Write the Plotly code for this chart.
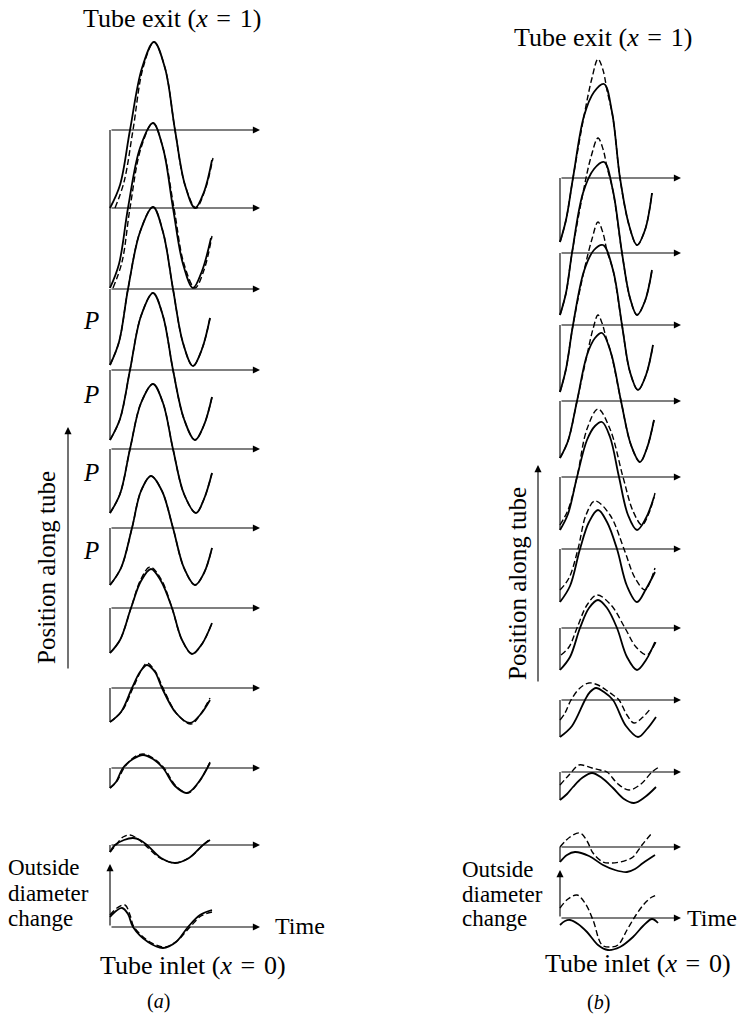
import plotly.graph_objects as go

# ---------------- Panel (a) ----------------
# baseline (row) positions along the tube, top row = tube exit
A_BASE = [130, 208, 289, 370, 449, 528, 608, 688, 768, 845, 927]
# solid curves: time offset / outside diameter change (upward positive)
A_SOLID_T = [
    [0, 10, 20, 32, 44, 55, 65, 75, 85, 94, 102],
    [0, 9, 18, 30, 43, 53, 63, 73, 83, 92, 101],
    [0, 9, 18, 30, 43, 53, 63, 73, 83, 92, 100],
    [0, 10, 20, 31, 43, 53, 63, 74, 85, 94, 102],
    [0, 10, 20, 31, 43, 53, 63, 74, 86, 94, 102],
    [0, 11, 22, 31, 41, 52, 63, 74, 85, 94, 102],
    [0, 10, 21, 31, 41, 51, 62, 72, 82, 92, 102],
    [0, 11, 22, 30, 37, 45, 52, 66, 80, 90, 100],
    [0, 6, 13, 23, 33, 43, 53, 65, 77, 88, 100],
    [0, 5, 14, 23, 30, 37, 51, 65, 79, 93, 100],
    [0, 6, 12, 18, 23, 38, 53, 66, 78, 90, 102],
]
A_SOLID_V = [
    [-78, -55, 0, 62, 88, 62, 0, -55, -78, -62, -30],
    [-80, -56, 0, 60, 85, 60, 0, -56, -80, -63, -30],
    [-76, -53, 0, 57, 82, 57, 0, -54, -77, -60, -29],
    [-70, -49, 0, 54, 77, 54, 0, -49, -70, -55, -27],
    [-64, -45, 0, 46, 65, 46, 0, -45, -64, -50, -24],
    [-57, -40, 0, 37, 52, 37, 0, -40, -57, -45, -20],
    [-45, -32, 0, 27, 39, 27, 0, -32, -46, -36, -15],
    [-34, -24, 0, 16, 23, 16, 0, -25, -35, -27, -12],
    [-20, -14, 0, 9, 13, 9, 0, -18, -25, -15, 5],
    [-7, 0, 5, 7, 5, 0, -13, -18, -13, 0, 5],
    [10, 16, 19, 13, 0, -15, -21, -15, 0, 12, 17],
]
A_DASH_T = [
    [5, 14, 23, 33, 44, 55, 65, 75, 86, 95, 103],
    [3, 12, 20, 31, 43, 53, 64, 74, 85, 94, 102],
    [0, 9, 18, 30, 43, 53, 63, 73, 83, 92, 100],
    [0, 10, 20, 31, 43, 53, 63, 74, 85, 94, 102],
    [0, 10, 20, 31, 43, 53, 63, 74, 86, 94, 102],
    [0, 11, 22, 31, 41, 52, 63, 74, 85, 94, 102],
    [0, 10, 21, 31, 40, 51, 62, 72, 82, 92, 102],
    [0, 12, 23, 31, 37, 45, 53, 67, 81, 90, 100],
    [0, 7, 14, 23, 33, 43, 54, 66, 78, 89, 100],
    [0, 6, 13, 20, 28, 35, 50, 65, 79, 93, 100],
    [0, 7, 15, 20, 24, 40, 55, 67, 80, 91, 102],
]
A_DASH_V = [
    [-78, -52, 0, 62, 88, 62, 0, -55, -78, -60, -28],
    [-80, -54, 0, 60, 85, 60, 0, -56, -80, -62, -28],
    [-76, -53, 0, 57, 82, 57, 0, -54, -77, -60, -29],
    [-70, -49, 0, 54, 77, 54, 0, -49, -70, -55, -27],
    [-64, -45, 0, 46, 65, 46, 0, -45, -64, -50, -24],
    [-57, -40, 0, 37, 52, 37, 0, -40, -57, -45, -20],
    [-45, -32, 0, 29, 41, 29, 0, -32, -46, -36, -15],
    [-34, -23, 0, 17, 25, 17, 0, -26, -36, -27, -10],
    [-20, -13, 0, 10, 14, 10, 0, -18, -25, -14, 6],
    [-7, 0, 8, 10, 6, 0, -13, -18, -13, 0, 6],
    [12, 19, 22, 12, 0, -15, -20, -14, 0, 11, 15],
]

# ---------------- Panel (b) ----------------
B_BASE = [178, 253, 325, 401, 477, 549, 628, 700, 772, 847, 918]
B_SOLID_T = [
    [0, 6, 13, 24, 34, 44, 52, 60, 69, 77, 85, 92],
    [0, 6, 12, 23, 34, 44, 53, 62, 70, 77, 85, 92],
    [0, 6, 13, 24, 34, 43, 53, 62, 70, 78, 86, 93],
    [0, 8, 17, 27, 35, 42, 51, 61, 71, 80, 87, 94],
    [0, 8, 17, 27, 35, 42, 50, 59, 68, 77, 86, 94],
    [0, 10, 20, 29, 38, 47, 57, 67, 77, 86, 95],
    [0, 10, 20, 29, 38, 47, 57, 67, 77, 86, 95],
    [0, 12, 25, 30, 36, 44, 53, 66, 78, 87, 96],
    [0, 7, 13, 22, 32, 42, 53, 64, 74, 85, 96],
    [0, 7, 15, 29, 43, 55, 67, 75, 83, 95],
    [0, 5, 10, 18, 27, 38, 48, 60, 73, 83, 92, 98],
]
B_SOLID_V = [
    [-64, -42, 0, 62, 86, 94, 66, 0, -47, -67, -52, -15],
    [-62, -40, 0, 60, 84, 91, 62, 0, -45, -62, -48, -17],
    [-67, -44, 0, 54, 75, 80, 55, 0, -47, -65, -50, -20],
    [-57, -40, 0, 46, 63, 68, 48, 0, -44, -61, -47, -19],
    [-53, -37, 0, 37, 51, 55, 40, 0, -38, -53, -41, -20],
    [-53, -37, 0, 27, 39, 27, 0, -37, -53, -40, -23],
    [-42, -29, 0, 20, 28, 20, 0, -29, -42, -32, -14],
    [-37, -26, 0, 8, 12, 8, 0, -26, -37, -29, -17],
    [-28, -22, -15, -6, -1, -6, -16, -27, -31, -25, -15],
    [-15, -8, -5, -9, -18, -23, -25, -22, -16, -8],
    [-7, -3, -2, -6, -14, -27, -32, -29, -19, -8, -1, -5],
]
B_DASH_T = [
    [0, 6, 13, 24, 32, 38, 43, 47, 53, 60, 69, 77, 85, 92],
    [0, 6, 12, 23, 31, 38, 43, 47, 53, 62, 70, 77, 85, 92],
    [0, 6, 13, 24, 32, 38, 43, 47, 53, 62, 70, 78, 86, 93],
    [0, 8, 17, 27, 33, 38, 42, 46, 51, 61, 71, 80, 87, 94],
    [0, 8, 17, 27, 38, 50, 63, 73, 82, 89, 95],
    [0, 9, 18, 26, 35, 50, 64, 75, 85, 90, 95],
    [1, 9, 17, 27, 37, 51, 65, 76, 87, 92, 97],
    [0, 5, 11, 20, 29, 38, 46, 53, 59, 67, 74, 83, 91],
    [0, 9, 19, 26, 32, 40, 47, 58, 69, 81, 92, 99],
    [0, 10, 20, 27, 33, 43, 52, 60, 67, 73, 82, 92],
    [0, 8, 17, 25, 33, 42, 50, 58, 67, 76, 85, 92, 97],
]
B_DASH_V = [
    [-64, -42, 0, 62, 100, 119, 108, 88, 60, 0, -47, -67, -52, -15],
    [-62, -40, 0, 60, 96, 115, 104, 86, 62, 0, -45, -62, -48, -17],
    [-67, -44, 0, 54, 86, 103, 92, 74, 55, 0, -47, -65, -50, -20],
    [-57, -40, 0, 46, 72, 86, 78, 64, 48, 0, -44, -61, -47, -19],
    [-48, -33, 0, 48, 68, 48, 0, -34, -48, -36, -16],
    [-41, -29, 0, 34, 48, 34, 0, -29, -41, -33, -19],
    [-27, -19, 0, 23, 33, 23, 0, -19, -27, -21, -12],
    [-20, -13, 0, 12, 17, 15, 10, 5, 0, -15, -23, -17, -8],
    [-13, -3, 7, 6, 4, 2, 0, -12, -18, -12, 0, 5],
    [0, 10, 14, 6, -6, -15, -16, -15, -13, -10, 2, 14],
    [10, 19, 23, 15, -2, -27, -29, -27, -12, 3, 15, 21, 23],
]

# ---------------- layout geometry ----------------
A_X0, A_TIP = 110, 260
B_X0, B_TIP = 560, 681
FONT = "Liberation Serif, Times New Roman, serif"
EQ1 = "Tube exit (<i>x</i>\u2004=\u20041)"
EQ0 = "Tube inlet (<i>x</i>\u2004=\u20040)"

fig = go.Figure()


def add_curve(x0, base, ts, vs, dashed):
    fig.add_trace(go.Scatter(
        x=[x0 + t for t in ts],
        y=[base - v for v in vs],
        mode="lines",
        line=dict(color="black", width=1.4 if dashed else 1.8,
                  dash="6px,3px" if dashed else "solid",
                  shape="spline", smoothing=1.0),
        hoverinfo="skip", showlegend=False,
    ))


def add_line(xs, ys, w=1.1):
    fig.add_trace(go.Scatter(x=xs, y=ys, mode="lines",
                             line=dict(color="black", width=w),
                             hoverinfo="skip", showlegend=False))


annotations = []


def arrow(x_from, y_from, x_to, y_to):
    annotations.append(dict(
        x=x_to, y=y_to, ax=x_from, ay=y_from, xref="x", yref="y",
        axref="x", ayref="y", text="", showarrow=True,
        arrowhead=2, arrowsize=1.3, arrowwidth=1.1, arrowcolor="black",
        standoff=0, startstandoff=0))


def text(x, y, s, size=24, angle=0, xanchor="center"):
    annotations.append(dict(
        x=x, y=y, xref="x", yref="y", text=s, showarrow=False,
        font=dict(family=FONT, size=size, color="black"),
        textangle=angle, xanchor=xanchor, yanchor="middle",
        borderpad=0))


def panel(x0, tip, bases, st, sv, dt, dv, top_arrow_y):
    n = len(bases)
    for i in range(n):
        base = bases[i]
        arrow(x0, base, tip, base)
        if i < n - 1:
            add_line([x0, x0], [base, base - sv[i][0]])
        else:
            arrow(x0, base, x0, top_arrow_y)
        add_curve(x0, base, dt[i], dv[i], True)
        add_curve(x0, base, st[i], sv[i], False)


panel(A_X0, A_TIP, A_BASE, A_SOLID_T, A_SOLID_V, A_DASH_T, A_DASH_V, 864)
panel(B_X0, B_TIP, B_BASE, B_SOLID_T, B_SOLID_V, B_DASH_T, B_DASH_V, 870)

# ---- panel (a) texts ----
text(172, 18, EQ1, 26)
for py in [320, 394, 472, 550]:
    text(91, py, "<i>P</i>", 25)
text(46, 568, "Position along tube", 25, angle=-90)
arrow(68, 670, 68, 427)
text(7, 867, "Outside", 23, xanchor="left")
text(7, 893, "diameter", 23, xanchor="left")
text(7, 918, "change", 23, xanchor="left")
text(300, 926, "Time", 24)
text(193, 965, EQ0, 26)
text(158, 1001, "(<i>a</i>)", 20)

# ---- panel (b) texts ----
text(603, 37, EQ1, 26)
text(517, 584, "Position along tube", 25, angle=-90)
arrow(538, 683, 538, 465)
text(461, 869, "Outside", 23, xanchor="left")
text(461, 894, "diameter", 23, xanchor="left")
text(461, 918, "change", 23, xanchor="left")
text(712, 918, "Time", 24)
text(638, 963, EQ0, 26)
text(598, 1002, "(<i>b</i>)", 20)

fig.update_layout(
    width=750, height=1019,
    margin=dict(l=0, r=0, t=0, b=0),
    paper_bgcolor="white", plot_bgcolor="white",
    xaxis=dict(range=[0, 750], visible=False, fixedrange=True),
    yaxis=dict(range=[1019, 0], visible=False, fixedrange=True),
    annotations=annotations,
    showlegend=False,
)

fig.write_html(
    "out.html",
    config={"displayModeBar": False},
    post_script="document.body.style.margin='0';document.body.style.overflow='hidden';",
)
